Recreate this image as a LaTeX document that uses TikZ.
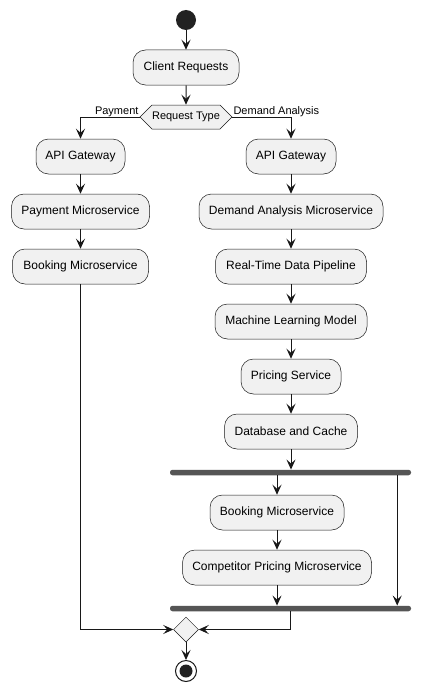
\documentclass[tikz,border=0pt]{standalone}
\usepackage{fontspec}
\setmainfont{Liberation Sans}
\usetikzlibrary{arrows.meta,shapes.geometric,shapes.symbols}
\definecolor{boxfill}{HTML}{F1F1F1}
\definecolor{lineclr}{HTML}{181818}
\definecolor{barclr}{HTML}{555555}
\definecolor{startclr}{HTML}{222222}
\begin{document}
\begin{tikzpicture}[x=1pt,y=-1pt,
  act/.style={draw=lineclr, line width=0.5pt, fill=boxfill, rounded corners=12.5pt,
    minimum height=35pt, inner sep=0pt, font=\fontsize{12}{14}\selectfont, text=black},
  flow/.style={draw=lineclr, line width=1pt, -{Stealth[length=10pt,width=9pt,inset=4pt]}},
  barnode/.style={fill=barclr, rounded corners=2.5pt, minimum height=5.5pt, minimum width=241pt, inner sep=0pt},
  lbl/.style={font=\fontsize{11}{13}\selectfont, inner sep=1pt, text=black}]
\useasboundingbox (0,0) rectangle (422,693);
\fill[white] (0,0) rectangle (422,693);

\node[circle, fill=startclr, minimum size=20pt, inner sep=0pt] (start) at (186,20) {};
\node[act, minimum width=106pt] (client) at (186,67.5) {Client Requests};
\node[signal, signal to=west and east, signal pointer angle=90, draw=lineclr, line width=0.5pt,
  fill=boxfill, minimum width=92pt, minimum height=24pt, inner sep=0pt,
  font=\fontsize{11}{13}\selectfont] (rt) at (186,117) {Request Type};

\node[act, minimum width=89pt] (apiL) at (80.5,156.5) {API Gateway};
\node[act, minimum width=138pt] (payL) at (80.5,211.5) {Payment Microservice};
\node[act, minimum width=136pt] (bookL) at (80.5,266.5) {Booking Microservice};

\node[act, minimum width=90pt] (apiR) at (291,156.5) {API Gateway};
\node[act, minimum width=184pt] (dam) at (291,211.5) {Demand Analysis Microservice};
\node[act, minimum width=151pt] (rtp) at (291,266.5) {Real-Time Data Pipeline};
\node[act, minimum width=152pt] (ml) at (291,321.5) {Machine Learning Model};
\node[act, minimum width=100pt] (ps) at (291,376.5) {Pricing Service};
\node[act, minimum width=133pt] (db) at (291,431.5) {Database and Cache};

\node[barnode] (fork) at (290.5,472.5) {};
\node[act, minimum width=134pt] (bookR) at (277,512.5) {Booking Microservice};
\node[act, minimum width=189pt] (comp) at (277,567.5) {Competitor Pricing Microservice};
\node[barnode] (join) at (290.5,608.5) {};

\node[diamond, aspect=1, draw=lineclr, line width=0.5pt, fill=boxfill, minimum size=25pt, inner sep=0pt] (merge) at (186,629.5) {};
\node[circle, draw=lineclr, line width=1pt, minimum size=21pt, inner sep=0pt] (end) at (186,671) {};
\fill[startclr] (end.center) circle (6.5pt);

\draw[flow] (start) -- (client);
\draw[flow] (client) -- (rt);
\draw[flow] (rt.west) -| (apiL.north);
\draw[flow] (rt.east) -| (apiR.north);
\node[lbl, anchor=south east] (lpay) at ([yshift=-0.5pt]rt.west) {Payment};
\node[lbl, anchor=south west] (ldem) at ([yshift=-0.5pt]rt.east) {Demand Analysis};

\draw[flow] (apiL) -- (payL);
\draw[flow] (payL) -- (bookL);
\draw[flow] (bookL.south) |- (merge.west);

\draw[flow] (apiR) -- (dam);
\draw[flow] (dam) -- (rtp);
\draw[flow] (rtp) -- (ml);
\draw[flow] (ml) -- (ps);
\draw[flow] (ps) -- (db);
\draw[flow] (db.south) -- (db.south |- fork.north);
\draw[flow] (bookR.north |- fork.south) -- (bookR.north);
\draw[flow] (bookR) -- (comp);
\draw[flow] (comp.south) -- (comp.south |- join.north);
\draw[flow] ([xshift=-14pt]fork.south east) -- ([xshift=-14pt]join.north east);
\draw[flow] (join.south) |- (merge.east);
\draw[flow] (merge.south) -- (end.north);
\end{tikzpicture}
\end{document}
